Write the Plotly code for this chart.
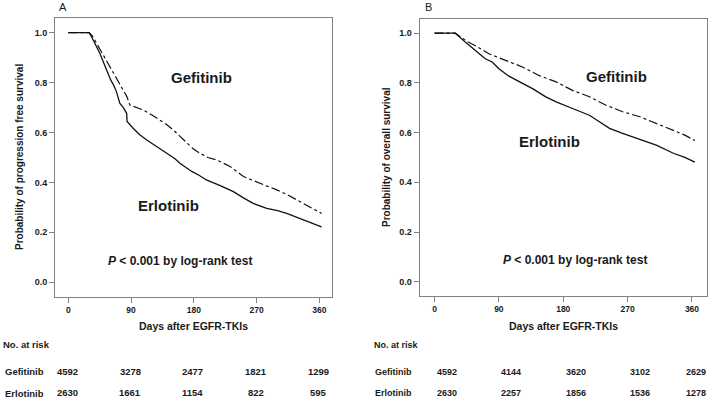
import plotly.graph_objects as go

# ---- Data ----
pfs_gef_days = [0, 30, 35, 40.6, 45, 55, 62, 69, 75, 79, 84, 88.4, 98, 107.6, 120, 131.5, 141, 150.6, 160, 169.7, 179, 188.8, 200, 212.7, 222, 231.9, 241, 251, 263, 275, 287, 298.8, 313, 327.5, 340, 352, 363]
pfs_gef_surv = [1.0, 1.0, 0.985, 0.957, 0.935, 0.89, 0.855, 0.817, 0.79, 0.77, 0.744, 0.71, 0.70, 0.69, 0.67, 0.65, 0.632, 0.61, 0.585, 0.557, 0.535, 0.517, 0.50, 0.49, 0.478, 0.464, 0.445, 0.424, 0.41, 0.397, 0.385, 0.37, 0.352, 0.33, 0.31, 0.295, 0.276]

pfs_erl_days = [0, 30, 35, 40.6, 45.4, 50, 55, 61, 65, 69, 74, 79, 83.7, 84.3, 93, 102, 112, 122, 131.5, 139, 146, 153, 160, 168, 177, 188, 198, 217, 236.7, 251, 265, 284.5, 300, 313, 332, 348, 363]
pfs_erl_surv = [1.0, 1.0, 0.975, 0.944, 0.917, 0.885, 0.85, 0.81, 0.79, 0.764, 0.717, 0.70, 0.677, 0.644, 0.617, 0.592, 0.571, 0.553, 0.537, 0.522, 0.51, 0.495, 0.477, 0.46, 0.444, 0.428, 0.41, 0.388, 0.363, 0.338, 0.316, 0.296, 0.287, 0.276, 0.256, 0.24, 0.222]

os_gef_days = [0, 29, 43, 60, 76, 99, 123, 146, 170, 193, 216.6, 240, 263, 287, 310, 334, 350, 364]
os_gef_surv = [1.0, 1.0, 0.971, 0.945, 0.917, 0.89, 0.864, 0.83, 0.804, 0.77, 0.744, 0.71, 0.684, 0.664, 0.637, 0.61, 0.59, 0.568]

os_erl_days = [0, 29, 43, 57, 71, 80.6, 90, 104, 123, 137, 155.6, 170, 193, 216.6, 230, 244.7, 263, 287, 310, 334, 350, 364]
os_erl_surv = [1.0, 1.0, 0.964, 0.93, 0.897, 0.884, 0.857, 0.827, 0.797, 0.777, 0.744, 0.724, 0.697, 0.67, 0.645, 0.617, 0.597, 0.573, 0.55, 0.517, 0.5, 0.481]

x_ticks = [0, 90, 180, 270, 360]
y_ticks = [0.0, 0.2, 0.4, 0.6, 0.8, 1.0]
y_tick_text = ["0.0", "0.2", "0.4", "0.6", "0.8", "1.0"]

risk_gef_pfs = [4592, 3278, 2477, 1821, 1299]
risk_erl_pfs = [2630, 1661, 1154, 822, 595]
risk_gef_os = [4592, 4144, 3620, 3102, 2629]
risk_erl_os = [2630, 2257, 1856, 1536, 1278]

FONT = "Arial, Liberation Sans, sans-serif"
TXT = "#1a1a1a"
GRAY = "#7f7f7f"

fig = go.Figure()

line_solid = dict(color="#111111", width=1.3)
line_dd = dict(color="#111111", width=1.2, dash="dashdot")

fig.add_trace(go.Scatter(x=pfs_gef_days, y=pfs_gef_surv, mode="lines", line=line_dd,
                         xaxis="x", yaxis="y", showlegend=False, name="Gefitinib"))
fig.add_trace(go.Scatter(x=pfs_erl_days, y=pfs_erl_surv, mode="lines", line=line_solid,
                         xaxis="x", yaxis="y", showlegend=False, name="Erlotinib"))
fig.add_trace(go.Scatter(x=os_gef_days, y=os_gef_surv, mode="lines", line=line_dd,
                         xaxis="x2", yaxis="y2", showlegend=False, name="Gefitinib"))
fig.add_trace(go.Scatter(x=os_erl_days, y=os_erl_surv, mode="lines", line=line_solid,
                         xaxis="x2", yaxis="y2", showlegend=False, name="Erlotinib"))

W, H = 709, 401

def xdom(l, r):
    return [l / W, r / W]

def ydom(t, b):
    return [1 - b / H, 1 - t / H]

common_x = dict(showline=True, linecolor=GRAY, linewidth=1, mirror=True, ticks="outside",
                ticklen=5, tickcolor=GRAY, tickwidth=1, showgrid=False, zeroline=False,
                tickvals=x_ticks, tickfont=dict(family=FONT, size=8.5, color=TXT, weight="bold"),
                fixedrange=True)
common_y = dict(showline=True, linecolor=GRAY, linewidth=1, mirror=True, ticks="outside",
                ticklen=5, tickcolor=GRAY, tickwidth=1, showgrid=False, zeroline=False,
                tickvals=y_ticks, ticktext=y_tick_text,
                tickfont=dict(family=FONT, size=9, color=TXT, weight="bold"), range=[-0.058, 1.059],
                fixedrange=True)

XA = (55, 332, -19, 378)
XB = (419.5, 707, -21, 381)

fig.update_layout(
    width=W, height=H, margin=dict(l=0, r=0, t=0, b=0),
    paper_bgcolor="white", plot_bgcolor="white",
    xaxis=dict(domain=xdom(XA[0], XA[1]), range=[XA[2], XA[3]], anchor="y", **common_x),
    yaxis=dict(domain=ydom(18, 296.7), anchor="x", **common_y),
    xaxis2=dict(domain=xdom(XB[0], XB[1]), range=[XB[2], XB[3]], anchor="y2", **common_x),
    yaxis2=dict(domain=ydom(18.5, 296.2), anchor="x2", **common_y),
)

ann = []

def pa(x, y, text, size, xanchor="center", yanchor="middle", angle=0, bold=True):
    ann.append(dict(x=x / W, y=1 - y / H, xref="paper", yref="paper", text=text,
                    showarrow=False, xanchor=xanchor, yanchor=yanchor, textangle=angle,
                    font=dict(family=FONT, size=size, color=TXT, weight="bold" if bold else "normal")))

# Panel letters
pa(57, 7, "A", 11, xanchor="left", bold=False)
pa(423, 7, "B", 11, xanchor="left", bold=False)

# Axis titles
pa(20, 157, "Probability of progression free survival", 10, angle=-90)
pa(387, 157, "Probability of overall survival", 10, angle=-90)
pa(193.5, 325.5, "Days after EGFR-TKIs", 10.5)
pa(563, 325.5, "Days after EGFR-TKIs", 10.5)

# In-plot labels
pa(201.5, 77.5, "Gefitinib", 15)
pa(168, 205.5, "Erlotinib", 15)
pa(180, 261, "<i>P</i> < 0.001 by log-rank test", 12)
pa(616.5, 76.5, "Gefitinib", 15)
pa(549, 141.5, "Erlotinib", 15)
pa(575, 259.5, "<i>P</i> < 0.001 by log-rank test", 12)

# Risk table
pa(1, 344.5, "No. at risk", 9.5, xanchor="left")
pa(3, 371.5, "Gefitinib", 9.5, xanchor="left")
pa(3, 393, "Erlotinib", 9.5, xanchor="left")
pa(371.5, 344.5, "No. at risk", 9, xanchor="left")
pa(372.5, 371.5, "Gefitinib", 9, xanchor="left")
pa(372.5, 393, "Erlotinib", 9, xanchor="left")


def day_to_px(d, ax):
    l, r, lo, hi = ax
    return l + (d - lo) / (hi - lo) * (r - l)


for d, g, e in zip(x_ticks, risk_gef_pfs, risk_erl_pfs):
    px = day_to_px(d, XA) - 1
    pa(px, 371.5, str(g), 9.5)
    pa(px, 392.5, str(e), 9.5)
for d, g, e in zip(x_ticks, risk_gef_os, risk_erl_os):
    px = min(day_to_px(d, XB) + 12.5, 696)
    pa(px, 371.5, str(g), 9)
    pa(px, 392.5, str(e), 9)

fig.update_layout(annotations=ann)

fig.write_html("out.html", config={"displayModeBar": False},
               post_script="document.body.style.margin='0';document.body.style.padding='0';")
